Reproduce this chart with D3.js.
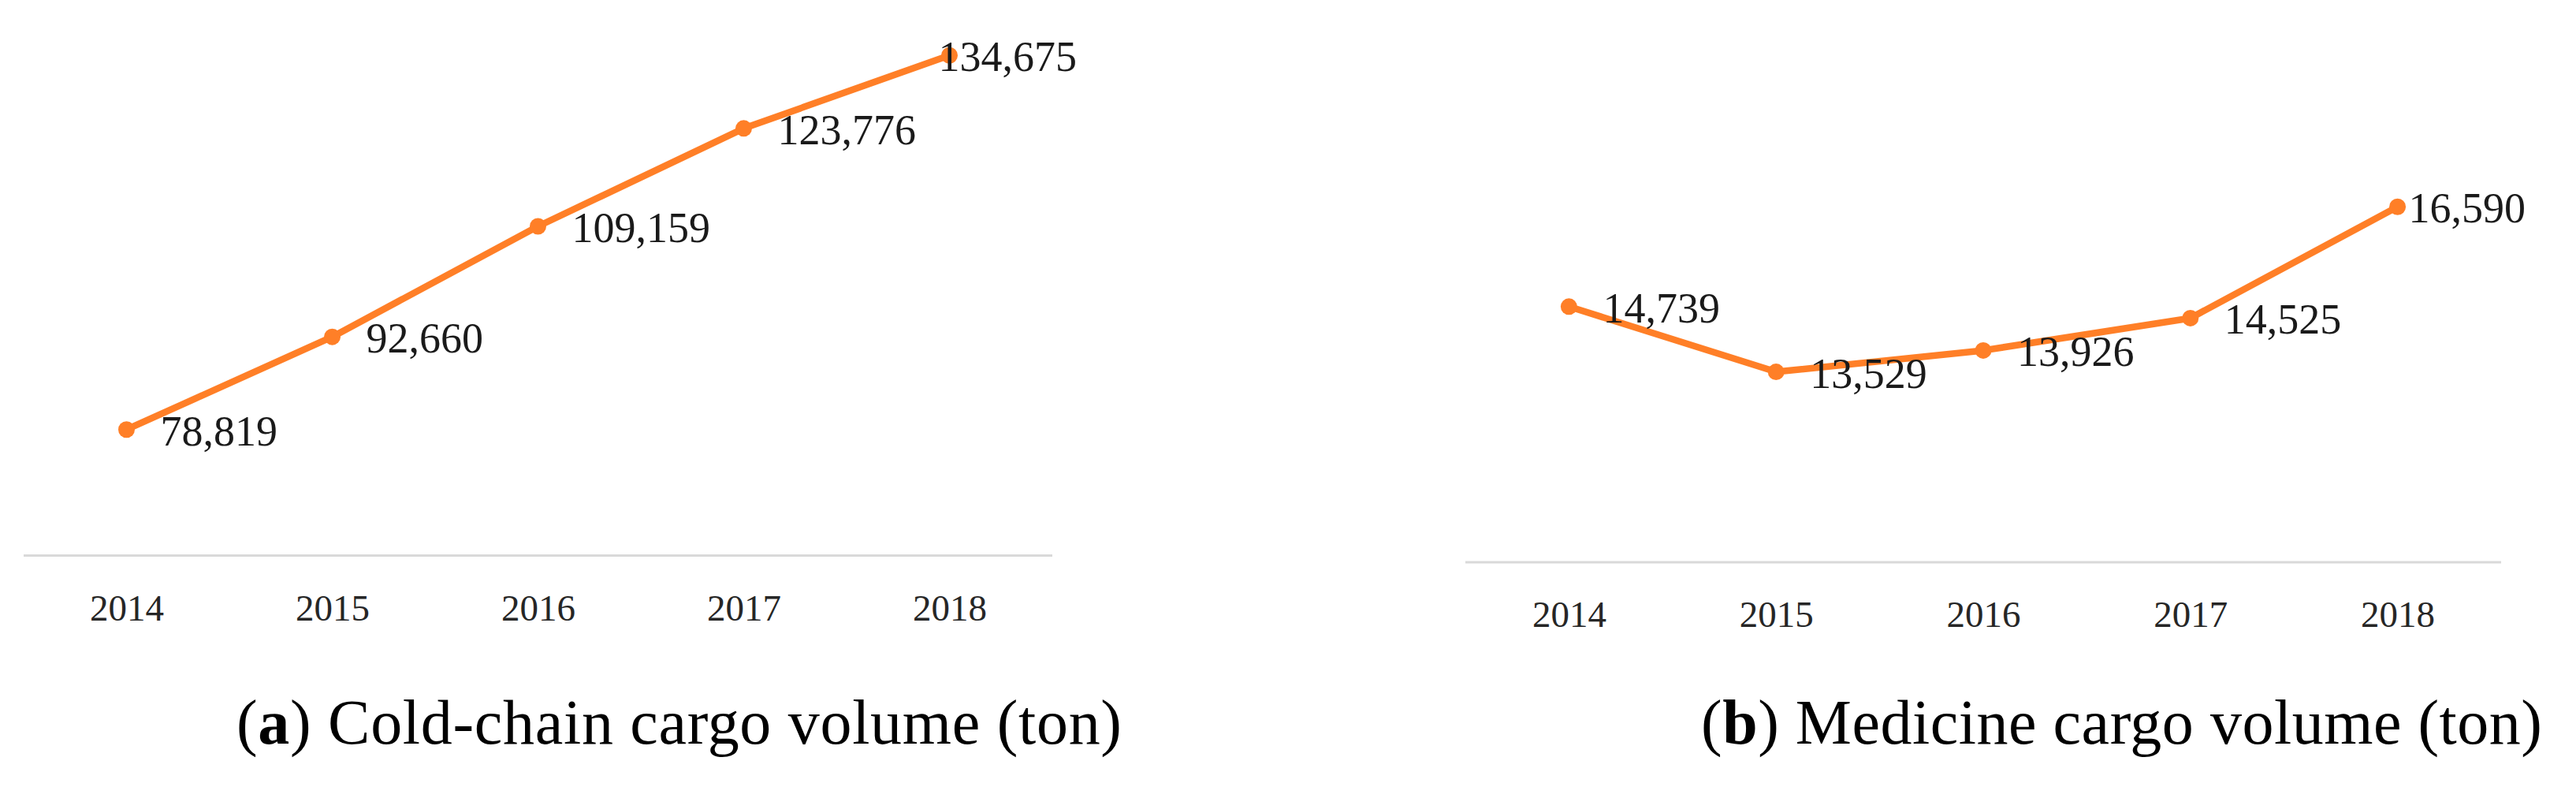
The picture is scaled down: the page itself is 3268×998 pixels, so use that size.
<!DOCTYPE html>
<meta charset="utf-8">
<html>
<head>
  <script src="https://d3js.org/d3.v7.min.js"></script>
  <style>
    body { margin: 0; background: #fff; }
    text { font-family: "Palatino Linotype", "Book Antiqua", Palatino, "Liberation Serif", serif; }
  </style>
</head>
<body>
  <svg></svg>
  <script type="text/javascript">
    // data
    var years = ["2014", "2015", "2016", "2017", "2018"]
    var coldChain = [78819, 92660, 109159, 123776, 134675]
    var medicine = [14739, 13529, 13926, 14525, 16590]
    var coldDomain = [60000, 140000]
    var medDomain = [10000, 20000]

    var width = 3268
    var height = 998
    const orange = '#ff7f27'

    const svg = d3.select('svg')
      .attr('width', width)
      .attr('height', height)

    var fmt = d3.format(',')

    function drawPanel(opts) {
      var g = svg.append('g')

      var x = d3.scalePoint()
        .domain(years)
        .range([opts.left, opts.right])
        .padding(0.5)

      var y = d3.scaleLinear()
        .domain(opts.domain)
        .range([opts.bottom, opts.top])

      // baseline
      g.append('line')
        .attr('x1', opts.left).attr('x2', opts.right)
        .attr('y1', y(opts.domain[0])).attr('y2', y(opts.domain[0]))
        .attr('stroke', '#d9d9d9')
        .attr('stroke-width', 3)

      // category axis, no ticks
      var axis = g.append('g')
        .attr('transform', 'translate(0,' + y(opts.domain[0]) + ')')
        .call(d3.axisBottom(x).tickSize(0).tickPadding(0))
      axis.select('.domain').remove()
      axis.selectAll('text')
        .attr('y', 82)
        .attr('dy', 0)
        .attr('font-size', 47)
        .attr('fill', '#262626')
        .style('font-family', '"Liberation Serif", serif')

      var pts = years.map(function (yr, i) { return { year: yr, value: opts.values[i] } })

      var line = d3.line()
        .x(function (d) { return x(d.year) })
        .y(function (d) { return y(d.value) })

      g.append('path')
        .datum(pts)
        .attr('d', line)
        .attr('fill', 'none')
        .attr('stroke', orange)
        .attr('stroke-width', 8.5)
        .attr('stroke-linejoin', 'round')

      g.selectAll('circle')
        .data(pts)
        .enter().append('circle')
        .attr('cx', function (d) { return x(d.year) })
        .attr('cy', function (d) { return y(d.value) })
        .attr('r', 10.5)
        .attr('fill', orange)

      var limit = opts.right + 31
      g.selectAll('text.val')
        .data(pts)
        .enter().append('text')
        .attr('class', 'val')
        .attr('font-size', 54)
        .attr('fill', '#1a1a1a')
        .attr('y', function (d) { return y(d.value) + 20 })
        .text(function (d) { return fmt(d.value) })
        .attr('x', function (d) {
          var len = this.getComputedTextLength()
          return Math.min(x(d.year) + 43, limit - len)
        })

      // caption
      var cap = g.append('text')
        .attr('x', opts.capX)
        .attr('y', 943)
        .attr('font-size', 80)
        .attr('fill', '#000')
        .attr('textLength', opts.capW)
      cap.append('tspan').text('(')
      cap.append('tspan').attr('font-weight', 'bold').text(opts.letter)
      cap.append('tspan').text(') ' + opts.caption)
    }

    drawPanel({
      values: coldChain, domain: coldDomain,
      left: 30, right: 1335, top: 25, bottom: 704.6,
      letter: 'a', caption: 'Cold-chain cargo volume (ton)',
      capX: 300, capW: 1123
    })

    drawPanel({
      values: medicine, domain: medDomain,
      left: 1859, right: 3173, top: 29, bottom: 712.9,
      letter: 'b', caption: 'Medicine cargo volume (ton)',
      capX: 2158, capW: 1067
    })
  </script>
</body>
</html>
